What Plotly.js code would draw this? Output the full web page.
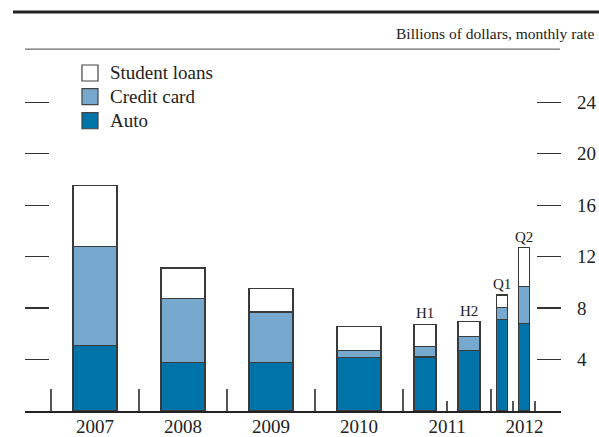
<!DOCTYPE html>
<html>
<head>
<meta charset="utf-8">
<script src="https://cdn.plot.ly/plotly-3.0.1.min.js"></script>
<style>
  html, body { margin: 0; padding: 0; background: #fff; }
  #chart { width: 599px; height: 437px; }
</style>
</head>
<body>
<div id="chart"></div>
<script>
// ---- Data (billions of dollars, monthly rate) ----
const periods = ['2007', '2008', '2009', '2010', '2011 H1', '2011 H2', '2012 Q1', '2012 Q2'];
const periodLabels = ['', '', '', '', 'H1', 'H2', 'Q1', 'Q2'];
const auto = [5.1, 3.8, 3.8, 4.14, 4.19, 4.68, 7.12, 6.81];
const creditCard = [7.7, 4.95, 3.89, 0.59, 0.83, 1.09, 0.93, 2.86];
const studentLoans = [4.75, 2.36, 1.84, 1.82, 1.71, 1.17, 0.96, 3.03];
const seriesNames = ['Auto', 'Credit card', 'Student loans'];
const yearLabels = ['2007', '2008', '2009', '2010', '2011', '2012'];
const yTicks = [4, 8, 12, 16, 20, 24];

// position of each period on a continuous time axis (years)
function periodStart(p) {
  const parts = p.split(' ');
  const yr = +parts[0];
  if (parts.length === 1) return [yr, 1];
  const sub = parts[1];
  if (sub[0] === 'H') return [yr + (+sub[1] - 1) / 2, 0.5];
  return [yr + (+sub[1] - 1) / 4, 0.25];
}
const xPos = periods.map(p => { const [s, len] = periodStart(p); return s + len / 2; });
const xWid = periods.map(p => periodStart(p)[1] * 0.5);

const FONT = 'Liberation Serif, Times New Roman, serif';
const INK = '#222';
const COLORS = ['#0073a8', '#77a8ce', '#ffffff'];
const barLine = { color: '#3a3a3a', width: 1.2 };
const seriesValues = [auto, creditCard, studentLoans];

const traces = seriesValues.map((vals, k) => ({
  type: 'bar', name: seriesNames[k], x: xPos, y: vals, width: xWid,
  marker: { color: COLORS[k], line: barLine }, hoverinfo: 'skip', showlegend: false
}));

const xRange = [2006.705, 2012.795];
const yRange = [0, 27.28];

const annotations = [];
const shapes = [];
periods.forEach((p, i) => {
  if (periodLabels[i]) {
    annotations.push({
      x: xPos[i], y: auto[i] + creditCard[i] + studentLoans[i],
      xref: 'x', yref: 'y', text: periodLabels[i], showarrow: false,
      yanchor: 'bottom', yshift: 1, font: { family: FONT, size: 15, color: INK }
    });
  }
});
annotations.push({
  x: 1.067, y: 1.075, xref: 'paper', yref: 'paper', xanchor: 'right', yanchor: 'middle',
  text: 'Billions of dollars, monthly rate', showarrow: false,
  font: { family: FONT, size: 15.5, color: INK }
});

// legend (top item = last series), drawn as key squares + labels
const legY = [0.963, 0.8954, 0.827];
const half = 0.0228;
[2, 1, 0].forEach((k, row) => {
  shapes.push({ type: 'rect', xref: 'paper', yref: 'paper',
    x0: 0.1063, x1: 0.1362, y0: legY[row] - half, y1: legY[row] + half,
    fillcolor: COLORS[k], line: { color: '#444', width: 1.2 } });
  annotations.push({ x: 0.1549, y: legY[row], xref: 'paper', yref: 'paper',
    xanchor: 'left', yanchor: 'middle', showarrow: false, text: seriesNames[k],
    font: { family: FONT, size: 19, color: INK } });
});

shapes.push(
  { type: 'line', xref: 'paper', yref: 'paper', x0: -0.0224, x1: 1.075, y0: 1.137, y1: 1.137,
    line: { color: '#222', width: 3 } },
  { type: 'line', xref: 'paper', yref: 'paper', x0: 0, x1: 0.998, y0: 1.031, y1: 1.031,
    line: { color: '#444', width: 1 } }
);

// year tick label positions
const yearPos = yearLabels.map(y => (y === '2012' ? +y + 0.38 : +y + 0.5));

const layout = {
  width: 599, height: 437,
  margin: { l: 25, r: 38, t: 60, b: 26, pad: 0 },
  paper_bgcolor: '#fff', plot_bgcolor: '#fff',
  barmode: 'stack',
  showlegend: false,
  font: { family: FONT, color: INK },
  xaxis: {
    range: xRange, showgrid: false, zeroline: false,
    showline: true, linecolor: '#222', linewidth: 2,
    tickmode: 'array', tickvals: [2006.705, 2007, 2008, 2009, 2010, 2011, 2012, 2012.795],
    ticktext: ['', '', '', '', '', '', '', ''],
    ticks: 'inside', ticklen: 22, tickwidth: 1.3, tickcolor: '#555',
    minor: { tickmode: 'array', tickvals: [2011.5, 2012.25, 2012.5], ticks: 'inside', ticklen: 10, tickwidth: 1.3, tickcolor: '#555' },
    fixedrange: true
  },
  xaxis2: {
    range: xRange, overlaying: 'x', side: 'bottom', showgrid: false, zeroline: false,
    showline: false, tickmode: 'array', tickvals: yearPos, ticktext: yearLabels,
    ticks: '', tickfont: { family: FONT, size: 19, color: INK }, ticklabelstandoff: 2
  },
  yaxis: {
    range: yRange, showgrid: false, zeroline: false, showline: false,
    tickmode: 'array', tickvals: yTicks, showticklabels: false,
    ticks: 'inside', ticklen: 24, tickwidth: 1.2, tickcolor: '#333', fixedrange: true
  },
  yaxis2: {
    range: yRange, overlaying: 'y', side: 'right', showgrid: false, zeroline: false, showline: false,
    tickmode: 'array', tickvals: yTicks, ticks: 'inside', ticklen: 24, tickwidth: 1.2, tickcolor: '#333',
    tickfont: { family: FONT, size: 19, color: INK }, ticklabelstandoff: 15
  },
  shapes: shapes,
  annotations: annotations
};

// invisible helper trace to activate the secondary axes
traces.push({ type: 'scatter', x: [xRange[0]], y: [0], xaxis: 'x2', yaxis: 'y2',
  mode: 'markers', marker: { opacity: 0 }, showlegend: false, hoverinfo: 'skip' });

Plotly.newPlot('chart', traces, layout, { displayModeBar: false, staticPlot: true });
</script>
</body>
</html>
